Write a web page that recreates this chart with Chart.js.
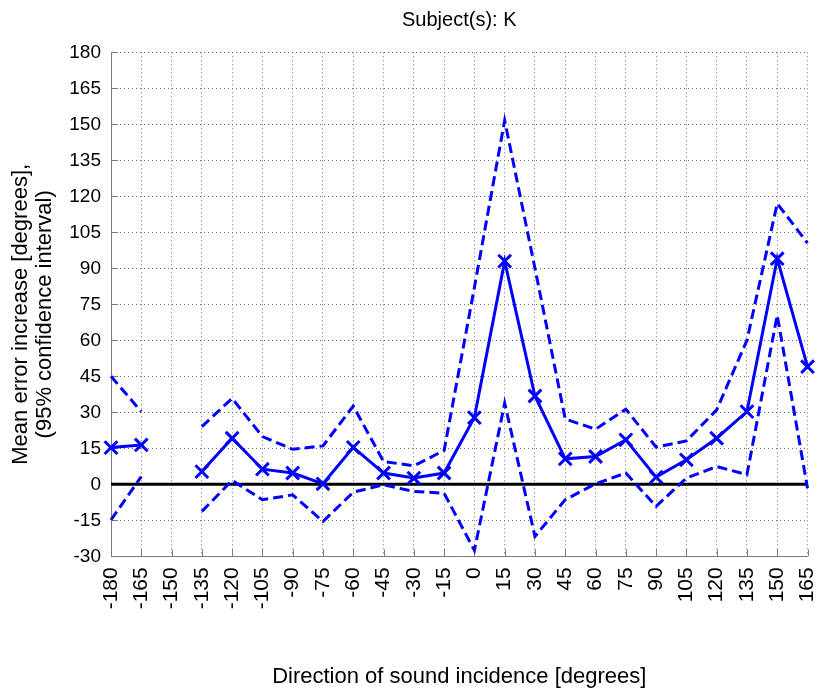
<!DOCTYPE html>
<html>
<head>
<meta charset="utf-8">
<script src="https://cdn.jsdelivr.net/npm/chart.js@4/dist/chart.umd.min.js"></script>
<style>
  html, body { margin: 0; padding: 0; background: #fff; }
  #wrap { width: 823px; height: 692px; }
</style>
</head>
<body>
<div id="wrap"><canvas id="chart" width="823" height="692"></canvas></div>
<script>
// Direction of sound incidence [degrees]; -150 has no data
const directions = [-180, -165, -150, -135, -120, -105, -90, -75, -60, -45, -30, -15,
                    0, 15, 30, 45, 60, 75, 90, 105, 120, 135, 150, 165];

// Mean error increase [degrees]
const meanIncrease = [15.3, 16.4, null, 5.3, 19.2, 6.3, 4.7, 0.2, 15.4, 4.7, 2.6, 4.7,
                      27.8, 93, 36.8, 10.6, 11.6, 18.5, 3.0, 10.2, 19.2, 30.3, 94, 49];

// 95% confidence interval bounds
const upperCI = [45, 30.3, null, 24, 35.8, 19.9, 14.6, 16, 32.6, 9.5, 7.7, 14.1,
                 82, 151.6, 90, 27.2, 23, 31.3, 15.5, 18.1, 31, 60, 117, 100.5];
const lowerCI = [-14.8, 3.2, null, -11.3, 1.6, -6.4, -4.4, -15.5, -3.3, -0.2, -3, -3.7,
                 -27.5, 33.8, -21.7, -6.4, 0.2, 4.7, -9.2, 2.6, 7.4, 4.0, 70.5, -1.6];

// Tick labels
const xTickValues = directions;
const yTickValues = [-30, -15, 0, 15, 30, 45, 60, 75, 90, 105, 120, 135, 150, 165, 180];

const yLabelLines = ['Mean error increase [degrees],', '(95% confidence interval)'];

const BLUE = '#0000ff';
const FONT = "'Liberation Sans', Arial, Helvetica, sans-serif";

const toPoints = vals => directions.map((d, i) => ({ x: d, y: vals[i] }));
const zeroLine = [
  { x: directions[0], y: 0 },
  { x: directions[directions.length - 1], y: 0 }
];

// MATLAB-style tick marks pointing into the axes
const innerTicks = {
  id: 'innerTicks',
  beforeDatasetsDraw(chart) {
    const { ctx, chartArea, scales: { x, y } } = chart;
    ctx.save();
    ctx.strokeStyle = '#7a7a7a';
    ctx.lineWidth = 1;
    ctx.beginPath();
    x.ticks.forEach(t => {
      const px = Math.round(x.getPixelForValue(t.value)) + 0.5;
      ctx.moveTo(px, chartArea.bottom);
      ctx.lineTo(px, chartArea.bottom - 7);
    });
    y.ticks.forEach(t => {
      const py = Math.round(y.getPixelForValue(t.value)) + 0.5;
      ctx.moveTo(chartArea.left, py);
      ctx.lineTo(chartArea.left + 7, py);
    });
    ctx.stroke();
    ctx.restore();
  }
};

// two-line rotated y label, sitting a little below the axis centre
const yLabel = {
  id: 'yLabel',
  afterDraw(chart) {
    const { ctx, chartArea } = chart;
    const cy = (chartArea.top + chartArea.bottom) / 2 + 10;
    ctx.save();
    ctx.fillStyle = '#000';
    ctx.font = '22px ' + FONT;
    ctx.textAlign = 'center';
    ctx.textBaseline = 'middle';
    yLabelLines.forEach((line, i) => {
      ctx.save();
      ctx.translate(21 + i * 24, cy);
      ctx.rotate(-Math.PI / 2);
      ctx.fillText(line, 0, 0);
      ctx.restore();
    });
    ctx.restore();
  }
};

Chart.defaults.color = '#000';
Chart.defaults.font.family = FONT;

new Chart(document.getElementById('chart'), {
  type: 'line',
  data: {
    datasets: [
      {
        label: 'Mean',
        data: toPoints(meanIncrease),
        borderColor: BLUE,
        backgroundColor: BLUE,
        borderWidth: 3,
        pointStyle: 'crossRot',
        pointRadius: 9,
        pointBorderWidth: 3,
        pointBorderColor: BLUE,
        clip: false
      },
      {
        label: 'Upper 95%',
        data: toPoints(upperCI),
        borderColor: BLUE,
        borderWidth: 3,
        borderDash: [10, 5],
        pointRadius: 0,
        clip: false
      },
      {
        label: 'Lower 95%',
        data: toPoints(lowerCI),
        borderColor: BLUE,
        borderWidth: 3,
        borderDash: [10, 5],
        pointRadius: 0,
        clip: false
      },
      {
        label: 'Zero',
        data: zeroLine,
        borderColor: '#000',
        borderWidth: 3,
        pointRadius: 0,
        order: 1
      }
    ]
  },
  options: {
    responsive: false,
    animation: false,
    events: [],
    layout: { padding: { left: 0, right: 15.5, top: 0, bottom: 0 } },
    plugins: {
      legend: { display: false },
      tooltip: { enabled: false },
      title: {
        display: true,
        text: 'Subject(s): K',
        fullSize: false,
        color: '#000',
        font: { size: 20, weight: 'normal', lineHeight: 1.2 },
        padding: { top: 8, bottom: 20.3 }
      }
    },
    scales: {
      x: {
        type: 'linear',
        min: -180,
        max: 165,
        afterBuildTicks: s => { s.ticks = xTickValues.map(v => ({ value: v })); },
        afterFit: s => { s.height = 135.7; s.paddingLeft = 0; s.paddingRight = 0; },
        grid: { color: '#6e6e6e', lineWidth: 1, drawTicks: false },
        border: { display: true, color: '#7a7a7a', width: 1, dash: [1, 3] },
        ticks: {
          minRotation: 90,
          maxRotation: 90,
          padding: 11,
          autoSkip: false,
          font: { size: 21 },
          callback: v => String(v)
        },
        title: {
          display: true,
          text: 'Direction of sound incidence [degrees]',
          font: { size: 22, lineHeight: 1.2 },
          padding: { top: 0, bottom: 1.8 }
        }
      },
      y: {
        type: 'linear',
        min: -30,
        max: 180,
        afterBuildTicks: s => { s.ticks = yTickValues.map(v => ({ value: v })); },
        afterFit: s => { s.width = 111; s.paddingTop = 0; s.paddingBottom = 0; },
        grid: { color: '#6e6e6e', lineWidth: 1, drawTicks: false },
        border: { display: true, color: '#7a7a7a', width: 1, dash: [1, 3] },
        ticks: {
          padding: 10,
          autoSkip: false,
          font: { size: 19 },
          callback: v => String(v)
        },
        title: { display: false }
      }
    }
  },
  plugins: [innerTicks, yLabel]
});
</script>
</body>
</html>
